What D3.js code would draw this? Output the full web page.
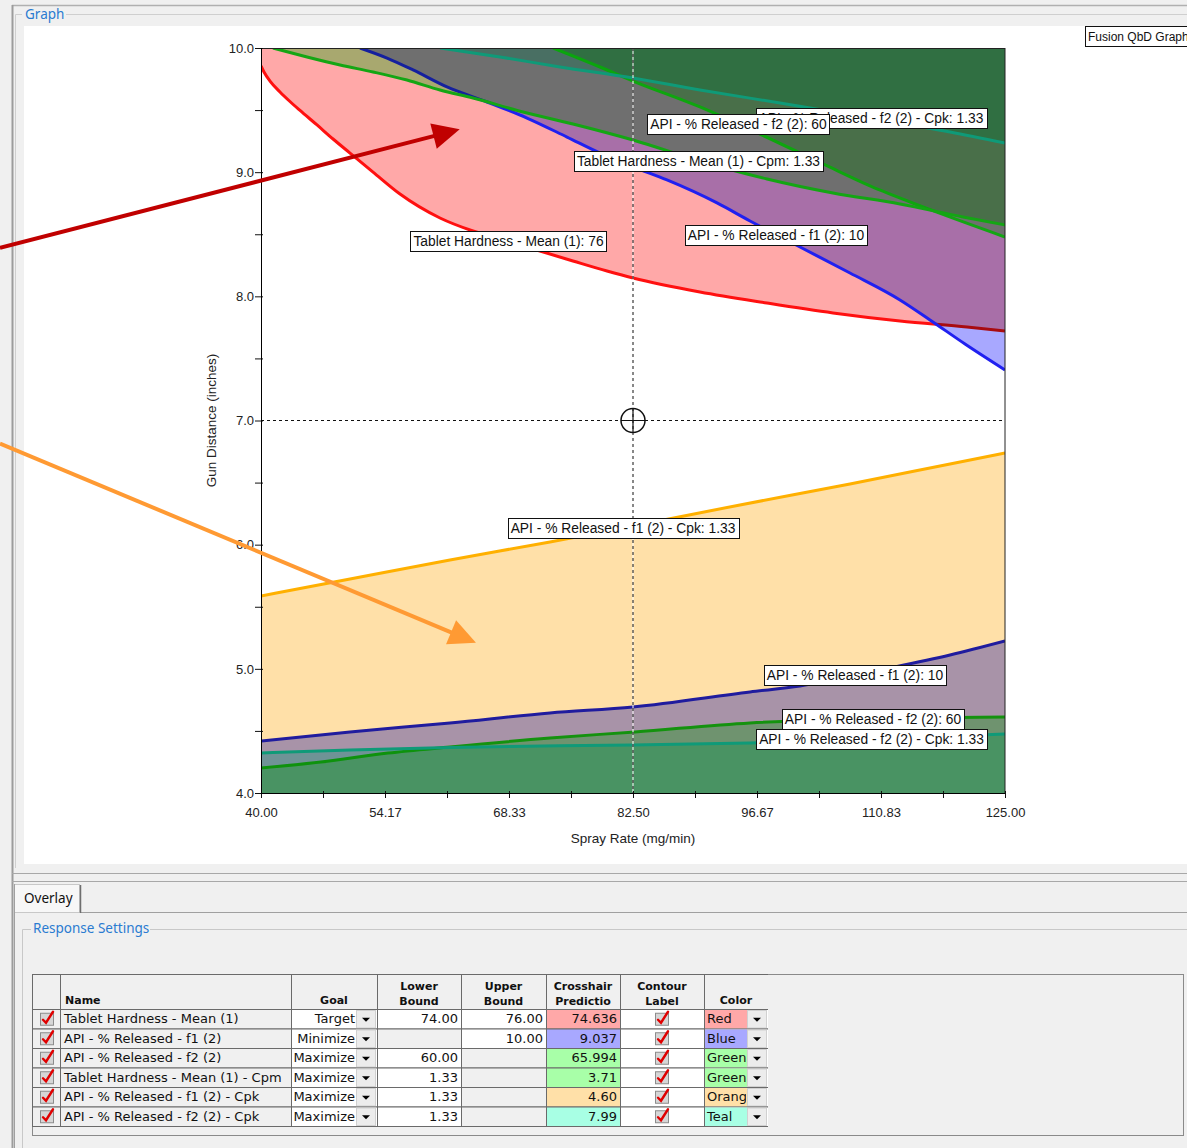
<!DOCTYPE html>
<html>
<head>
<meta charset="utf-8">
<script src="https://cdn.jsdelivr.net/npm/d3@7"></script>
<style>
  html, body { margin: 0; padding: 0; background: #f0f0f0; }
  svg { display: block; }
</style>
</head>
<body>
<svg id="chart" width="1187" height="1148"></svg>
<script>
// ---------------- axis ticks ----------------
const sprayTicks = [40, 54.1667, 68.3333, 82.5, 96.6667, 110.8333, 125];
const gunTicks = [4, 5, 6, 7, 8, 9, 10];
const crosshair = { spray: 82.5, gun: 7.0 };

// ---------------- contour lines: [spray rate (mg/min), gun distance (in)] ----------------
const hardnessMean76 = [[40.00,9.855],[40.34,9.807],[41.03,9.734],[42.17,9.646],[43.31,9.569],[44.46,9.497],[46.40,9.380],[48.23,9.267],[50.17,9.154],[52.80,9.001],[55.88,8.824],[60.45,8.631],[64.22,8.526],[68.10,8.446],[71.87,8.365],[75.64,8.285],[79.53,8.204],[82.50,8.148],[90.15,8.035],[97.81,7.946],[105.35,7.866],[113.00,7.801],[120.66,7.753],[125.00,7.721]];
const f1Upper = [[51.31,10.0],[54.40,9.919],[57.37,9.823],[61.25,9.686],[65.82,9.565],[70.39,9.436],[74.96,9.283],[78.73,9.154],[82.50,9.042],[86.38,8.937],[92.10,8.752],[95.87,8.607],[101.58,8.397],[107.29,8.188],[113.00,7.971],[116.43,7.810],[120.43,7.616],[125.00,7.407]];
const f1Lower = [[40.00,4.419],[50.17,4.492],[61.59,4.564],[73.02,4.645],[82.50,4.693],[95.87,4.814],[101.58,4.862],[110.72,4.991],[118.72,5.112],[125.00,5.225]];
const f2Upper = [[73.36,10.0],[78.73,9.847],[82.50,9.734],[90.15,9.525],[97.01,9.307],[104.21,9.066],[109.58,8.889],[115.63,8.720],[125.00,8.478]];
const f2Lower = [[40.00,4.201],[46.85,4.249],[54.51,4.322],[61.59,4.371],[73.02,4.443],[82.73,4.492],[95.87,4.564],[107.29,4.596],[125.00,4.613]];
const cpmLimit = [[41.37,10.0],[45.26,9.928],[49.03,9.863],[52.80,9.807],[56.68,9.742],[60.45,9.662],[64.22,9.597],[69.93,9.485],[75.64,9.388],[82.50,9.259],[90.15,9.090],[97.81,8.945],[105.35,8.832],[113.00,8.744],[120.20,8.639],[125.00,8.575]];
const f1CpkLimit = [[40.00,5.587],[50.17,5.724],[61.59,5.877],[73.02,6.022],[82.50,6.150],[94.72,6.320],[107.29,6.489],[118.72,6.650],[125.00,6.738]];
const f2CpkUpper = [[60.45,10.0],[67.31,9.928],[74.16,9.847],[82.50,9.758],[90.15,9.662],[99.30,9.557],[109.58,9.436],[118.72,9.324],[125.00,9.235]];
const f2CpkLower = [[40.00,4.322],[50.17,4.346],[61.59,4.367],[82.50,4.387],[95.87,4.403],[110.72,4.435],[125.00,4.475]];

// contour label text and the spray rate where each label sits on its line
const contourLabels = [
  { text: "API - % Released - f2 (2) - Cpk: 1.33", line: f2CpkUpper, at: 109.69 },
  { text: "Tablet Hardness - Mean (1): 76", line: hardnessMean76, at: 68.28 },
  { text: "API - % Released - f1 (2): 10", line: f1Upper, at: 98.84 },
  { text: "API - % Released - f1 (2): 10", line: f1Lower, at: 107.86 },
  { text: "API - % Released - f2 (2): 60", line: f2Upper, at: 94.55 },
  { text: "API - % Released - f2 (2): 60", line: f2Lower, at: 109.92 },
  { text: "Tablet Hardness - Mean (1) - Cpm: 1.33", line: cpmLimit, at: 89.98 },
  { text: "API - % Released - f1 (2) - Cpk: 1.33", line: f1CpkLimit, at: 81.36 },
  { text: "API - % Released - f2 (2) - Cpk: 1.33", line: f2CpkLower, at: 109.75 }
];

// annotation arrows: [tail, tip] in chart units
const arrows = [
  { from: [10.18, 8.39], to: [62.70, 9.345], color: "#c00000" },
  { from: [10.18, 6.815], to: [64.56, 5.21], color: "#ff9a33" }
];

// ---------------- response settings table ----------------
const responseNames = ["Tablet Hardness - Mean (1)", "API - % Released - f1 (2)", "API - % Released - f2 (2)", "Tablet Hardness - Mean (1) - Cpm", "API - % Released - f1 (2) - Cpk", "API - % Released - f2 (2) - Cpk"];
const goals = ["Target", "Minimize", "Maximize", "Maximize", "Maximize", "Maximize"];
const lowerBounds = ["74.00", "", "60.00", "1.33", "1.33", "1.33"];
const upperBounds = ["76.00", "10.00", "", "", "", ""];
const predictions = ["74.636", "9.037", "65.994", "3.71", "4.60", "7.99"];
const colorNames = ["Red", "Blue", "Green", "Green", "Orange", "Teal"];

// overlay colours for each response
const palette = {
  Red:    { fill: "#ffa8a8", line: "#ff1010" },
  Blue:   { fill: "#a8a8ff", line: "#2020f0" },
  Green:  { fill: "#a8ffa8", line: "#14a614" },
  Orange: { fill: "#ffe0a8", line: "#ffb000" },
  Teal:   { fill: "#a8ffe4", line: "#0f9a78" }
};

// failing regions of each response: shaded above or below its limit line
const overlays = [
  { color: "Red",    parts: [{ pts: hardnessMean76, side: "above" }] },
  { color: "Blue",   parts: [{ pts: f1Upper, side: "above" }, { pts: f1Lower, side: "below" }] },
  { color: "Green",  parts: [{ pts: f2Upper, side: "above" }, { pts: f2Lower, side: "below" }] },
  { color: "Green",  parts: [{ pts: cpmLimit, side: "above" }] },
  { color: "Orange", parts: [{ pts: f1CpkLimit, side: "below" }] },
  { color: "Teal",   parts: [{ pts: f2CpkUpper, side: "above" }, { pts: f2CpkLower, side: "below" }] }
];

// ---------------- drawing ----------------
const svg = d3.select("#chart");
const UI = "'Noto Sans', 'Open Sans', sans-serif";
const ARIAL = "'Liberation Sans', Arial, sans-serif";
const GRID = "'DejaVu Sans', Verdana, sans-serif";

// window chrome
svg.append("rect").attr("width", 1187).attr("height", 1148).attr("fill", "#f0f0f0");
svg.append("line").attr("x1", 12).attr("x2", 1187).attr("y1", 5.5).attr("y2", 5.5).attr("stroke", "#b0b0b0").attr("stroke-width", 1.5);
svg.append("line").attr("x1", 12.5).attr("x2", 12.5).attr("y1", 5).attr("y2", 1148).attr("stroke", "#9c9c9c").attr("stroke-width", 2);
svg.append("path").attr("d", "M22,14.5H15.5V868 M66,14.5H1187").attr("fill", "none").attr("stroke", "#cfcfcf");
svg.append("text").attr("x", 25).attr("y", 19).attr("font-family", UI).attr("font-size", 13.5).attr("fill", "#2a7bd0").text("Graph");
svg.append("rect").attr("x", 24).attr("y", 26).attr("width", 1163).attr("height", 838).attr("fill", "#ffffff");

// splitter and tab strip
svg.append("line").attr("x1", 12).attr("x2", 1187).attr("y1", 873.5).attr("y2", 873.5).attr("stroke", "#a8a8a8");
svg.append("line").attr("x1", 12).attr("x2", 1187).attr("y1", 881.5).attr("y2", 881.5).attr("stroke", "#a8a8a8");
svg.append("line").attr("x1", 80).attr("x2", 1187).attr("y1", 912.5).attr("y2", 912.5).attr("stroke", "#a0a0a0");
svg.append("rect").attr("x", 14.5).attr("y", 884.5).attr("width", 65).attr("height", 28).attr("fill", "#f7f7f7").attr("stroke", "#c8c8c8");
svg.append("line").attr("x1", 80.5).attr("x2", 80.5).attr("y1", 885).attr("y2", 913).attr("stroke", "#6e6e6e").attr("stroke-width", 1.5);
svg.append("line").attr("x1", 14.5).attr("x2", 14.5).attr("y1", 884).attr("y2", 1148).attr("stroke", "#a0a0a0");
svg.append("text").attr("x", 24).attr("y", 903).attr("font-family", UI).attr("font-size", 13.5).attr("fill", "#111").text("Overlay");
svg.append("path").attr("d", "M31,929.5H22.5V1148 M150,929.5H1187").attr("fill", "none").attr("stroke", "#c8c8c8");
svg.append("text").attr("x", 33).attr("y", 933).attr("font-family", UI).attr("font-size", 13.5).attr("fill", "#2a7bd0").text("Response Settings");

// scales
const x = d3.scaleLinear().domain([40, 125]).range([261, 1005]);
const y = d3.scaleLinear().domain([4, 10]).range([793, 48]);
const [x0, x1] = x.range();
const [y0, y1] = [y(10), y(4)];

svg.append("clipPath").attr("id", "plotClip").append("rect")
  .attr("x", x0).attr("y", y0).attr("width", x1 - x0).attr("height", y1 - y0);

const plot = svg.append("g").attr("clip-path", "url(#plotClip)");
plot.append("rect").attr("x", x0).attr("y", y0).attr("width", x1 - x0).attr("height", y1 - y0).attr("fill", "#fff");

const curve = d3.curveMonotoneX;
const lineGen = d3.line().x(d => x(d[0])).y(d => y(d[1])).curve(curve);
const areaGen = side => d3.area()
  .x(d => x(d[0]))
  .y0(side === "above" ? y(10) : y(4))
  .y1(d => y(d[1]))
  .curve(curve);

overlays.forEach(layer => {
  const c = palette[layer.color];
  layer.parts.forEach(p => {
    plot.append("path").datum(p.pts).attr("d", areaGen(p.side))
      .attr("fill", c.fill).style("mix-blend-mode", "multiply");
  });
  layer.parts.forEach(p => {
    plot.append("path").datum(p.pts).attr("d", lineGen)
      .attr("fill", "none").attr("stroke", c.line).attr("stroke-width", 3);
  });
});

// crosshair
const cx = x(crosshair.spray), cy = y(crosshair.gun);
[[cx, y0, cx, y1], [x0, cy, x1, cy]].forEach(([a, b, c2, d]) => {
  plot.append("line").attr("x1", a).attr("y1", b).attr("x2", c2).attr("y2", d).attr("stroke", "#fff").attr("stroke-width", 1);
  plot.append("line").attr("x1", a).attr("y1", b).attr("x2", c2).attr("y2", d).attr("stroke", "#111").attr("stroke-width", 1).attr("stroke-dasharray", "3,3");
});
plot.append("circle").attr("cx", cx).attr("cy", cy).attr("r", 12).attr("fill", "none").attr("stroke", "#111").attr("stroke-width", 1.5);
plot.append("path").attr("d", `M${cx - 12},${cy}H${cx + 12}M${cx},${cy - 12}V${cy + 12}`).attr("stroke", "#111").attr("stroke-width", 1.2);

// frame and axes
svg.append("rect").attr("x", x0 + 0.5).attr("y", y0 + 0.5).attr("width", x1 - x0 - 0.5).attr("height", y1 - y0)
  .attr("fill", "none").attr("stroke", "#222").attr("stroke-width", 1);

const minorX = d3.pairs(sprayTicks).map(([a, b]) => (a + b) / 2);
const minorY = d3.pairs(gunTicks).map(([a, b]) => (a + b) / 2);

const styleAxis = g => g.attr("font-family", ARIAL).attr("font-size", 13)
  .call(a => a.select(".domain").remove())
  .call(a => a.selectAll(".tick line").attr("stroke", "#111"))
  .call(a => a.selectAll(".tick text").attr("fill", "#222"));

svg.append("g").attr("transform", `translate(${x0},0)`)
  .call(d3.axisLeft(y).tickValues(gunTicks).tickFormat(d3.format(".1f")).tickSize(6).tickPadding(1))
  .call(styleAxis)
  .call(a => a.selectAll(".tick line").attr("x1", 2));
svg.append("g").attr("transform", `translate(${x0},0)`)
  .call(d3.axisLeft(y).tickValues(minorY).tickFormat("").tickSize(6))
  .call(styleAxis)
  .call(a => a.selectAll(".tick line").attr("x1", 2));
svg.append("g").attr("transform", `translate(0,${y1})`)
  .call(d3.axisBottom(x).tickValues(sprayTicks).tickFormat(d3.format(".2f")).tickSize(5).tickPadding(10))
  .call(styleAxis)
  .call(a => a.selectAll(".tick line").attr("y1", -2));
svg.append("g").attr("transform", `translate(0,${y1})`)
  .call(d3.axisBottom(x).tickValues(minorX).tickFormat("").tickSize(5))
  .call(styleAxis)
  .call(a => a.selectAll(".tick line").attr("y1", -2));
svg.append("line").attr("x1", x0 + 0.5).attr("x2", x0 + 0.5).attr("y1", y0).attr("y2", y1).attr("stroke", "#000");
svg.append("line").attr("x1", x0).attr("x2", x1).attr("y1", y1 + 0.5).attr("y2", y1 + 0.5).attr("stroke", "#000");

svg.append("text").attr("x", (x0 + x1) / 2).attr("y", 843).attr("text-anchor", "middle")
  .attr("font-family", ARIAL).attr("font-size", 13.5).attr("fill", "#222").text("Spray Rate (mg/min)");
svg.append("text").attr("transform", `translate(216,${(y0 + y1) / 2}) rotate(-90)`).attr("text-anchor", "middle")
  .attr("font-family", ARIAL).attr("font-size", 13.5).attr("fill", "#222").text("Gun Distance (inches)");

// contour labels sitting on their lines
function yOnLine(pts, sx) {
  const i = Math.max(1, Math.min(pts.length - 1, d3.bisector(d => d[0]).left(pts, sx)));
  const [a, b] = [pts[i - 1], pts[i]];
  const t = (sx - a[0]) / (b[0] - a[0]);
  return a[1] + t * (b[1] - a[1]);
}
const labelLayer = svg.append("g");
contourLabels.forEach(l => {
  const px = x(l.at), py = y(yOnLine(l.line, l.at));
  const g = labelLayer.append("g");
  const rect = g.append("rect");
  const t = g.append("text").attr("x", px).attr("y", py + 5).attr("text-anchor", "middle")
    .attr("font-family", ARIAL).attr("font-size", 13.8).attr("fill", "#111").text(l.text);
  const w = t.node().getComputedTextLength() + 6;
  rect.attr("x", Math.round(px - w / 2) + 0.5).attr("y", Math.round(py - 10) + 0.5)
    .attr("width", Math.round(w)).attr("height", 20)
    .attr("fill", "#fff").attr("stroke", "#111").attr("stroke-width", 1);
});

// annotation arrows
arrows.forEach(a => {
  const [tx, ty] = [x(a.from[0]), y(a.from[1])];
  const [hx, hy] = [x(a.to[0]), y(a.to[1])];
  const len = Math.hypot(hx - tx, hy - ty);
  const ux = (hx - tx) / len, uy = (hy - ty) / len;
  const headL = 27, headW = 13;
  const bx = hx - ux * headL, by = hy - uy * headL;
  svg.append("line").attr("x1", tx).attr("y1", ty).attr("x2", bx + ux * 2).attr("y2", by + uy * 2)
    .attr("stroke", a.color).attr("stroke-width", 4);
  svg.append("path")
    .attr("d", `M${hx},${hy}L${bx - uy * headW},${by + ux * headW}L${bx + uy * headW},${by - ux * headW}Z`)
    .attr("fill", a.color);
});

// graph caption box
svg.append("rect").attr("x", 1085.5).attr("y", 26.5).attr("width", 120).attr("height", 20)
  .attr("fill", "#fff").attr("stroke", "#111");
svg.append("text").attr("x", 1088).attr("y", 41).attr("font-family", ARIAL).attr("font-size", 12)
  .attr("fill", "#111").text("Fusion QbD Graph");

// ---------------- response settings grid ----------------
const colX = [32, 60, 291, 377, 461, 546, 620, 704, 768];
const headTop = 974, rowTop = 1009, rowH = 19.5;
const grid = svg.append("g");
grid.append("rect").attr("x", 32.5).attr("y", 974.5).attr("width", 1151).attr("height", 161)
  .attr("fill", "#f0f0f0").attr("stroke", "#8a8a8a");

const headers = [[""], ["Name"], ["Goal"], ["Lower", "Bound"], ["Upper", "Bound"], ["Crosshair", "Predictio"], ["Contour", "Label"], ["Color"]];
grid.append("clipPath").attr("id", "gridClip").append("rect").attr("x", 32).attr("y", 974).attr("width", 736).attr("height", 153);
const gc = grid.append("g").attr("clip-path", "url(#gridClip)");

function cell(ci, top, h, fill) {
  gc.append("rect").attr("x", colX[ci] + 0.5).attr("y", top + 0.5)
    .attr("width", colX[ci + 1] - colX[ci]).attr("height", h)
    .attr("fill", fill).attr("stroke", "#6a6a6a").attr("stroke-width", 1);
}
function checkIcon(cx0, cy0) {
  gc.append("rect").attr("x", cx0 - 7 + 0.5).attr("y", cy0 - 6 + 0.5).attr("width", 13).attr("height", 12)
    .attr("fill", "#d6d6d6").attr("stroke", "#8c8c8c");
  gc.append("path").attr("d", `M${cx0 - 4},${cy0 + 1}L${cx0 - 1},${cy0 + 4}L${cx0 + 6},${cy0 - 7}`)
    .attr("fill", "none").attr("stroke", "#e00000").attr("stroke-width", 2.4).attr("stroke-linecap", "round");
}
function dropButton(xr, top) {
  gc.append("rect").attr("x", xr - 20.5).attr("y", top + 1.5).attr("width", 19).attr("height", rowH - 2)
    .attr("fill", "#ececec").attr("stroke", "#d0d0d0");
  const mx = xr - 11, my = top + rowH / 2 + 1;
  gc.append("path").attr("d", `M${mx - 4},${my - 2}H${mx + 4}L${mx},${my + 2}Z`).attr("fill", "#000");
}

headers.forEach((lines, ci) => {
  cell(ci, headTop, rowTop - headTop, "#f0f0f0");
  const cxm = (colX[ci] + colX[ci + 1]) / 2;
  lines.forEach((s, li) => {
    const yy = lines.length === 2 ? 990 + li * 15 : 1004;
    gc.append("text").attr("x", ci === 1 ? colX[ci] + 5 : cxm).attr("y", yy)
      .attr("text-anchor", ci === 1 ? "start" : "middle")
      .attr("font-family", GRID).attr("font-size", 11).attr("font-weight", "bold").attr("fill", "#111").text(s);
  });
});

responseNames.forEach((name, r) => {
  const top = rowTop + r * rowH;
  const base = top + rowH / 2 + 4.5;
  const col = palette[colorNames[r]];
  cell(0, top, rowH, "#f0f0f0");
  checkIcon(47, top + rowH / 2);
  cell(1, top, rowH, "#f0f0f0");
  gc.append("text").attr("x", colX[1] + 4).attr("y", base).attr("font-family", GRID).attr("font-size", 13).attr("fill", "#111").text(name);
  cell(2, top, rowH, "#fff");
  dropButton(colX[3], top);
  gc.append("text").attr("x", colX[3] - 22).attr("y", base).attr("text-anchor", "end").attr("font-family", GRID).attr("font-size", 13).attr("fill", "#111").text(goals[r]);
  cell(3, top, rowH, lowerBounds[r] ? "#fff" : "#f0f0f0");
  gc.append("text").attr("x", colX[4] - 3).attr("y", base).attr("text-anchor", "end").attr("font-family", GRID).attr("font-size", 13).attr("fill", "#111").text(lowerBounds[r]);
  cell(4, top, rowH, upperBounds[r] ? "#fff" : "#f0f0f0");
  gc.append("text").attr("x", colX[5] - 3).attr("y", base).attr("text-anchor", "end").attr("font-family", GRID).attr("font-size", 13).attr("fill", "#111").text(upperBounds[r]);
  cell(5, top, rowH, col.fill);
  gc.append("text").attr("x", colX[6] - 3).attr("y", base).attr("text-anchor", "end").attr("font-family", GRID).attr("font-size", 13).attr("fill", "#111").text(predictions[r]);
  cell(6, top, rowH, "#fff");
  checkIcon(662, top + rowH / 2);
  cell(7, top, rowH, "#fff");
  gc.append("rect").attr("x", colX[7] + 1).attr("y", top + 1).attr("width", colX[8] - colX[7] - 22).attr("height", rowH - 1).attr("fill", col.fill);
  gc.append("clipPath").attr("id", "cc" + r).append("rect").attr("x", colX[7]).attr("y", top).attr("width", colX[8] - colX[7] - 22).attr("height", rowH);
  gc.append("text").attr("clip-path", `url(#cc${r})`).attr("x", colX[7] + 3).attr("y", base).attr("font-family", GRID).attr("font-size", 13).attr("fill", "#111").text(colorNames[r]);
  dropButton(colX[8], top);
});
</script>
</body>
</html>
